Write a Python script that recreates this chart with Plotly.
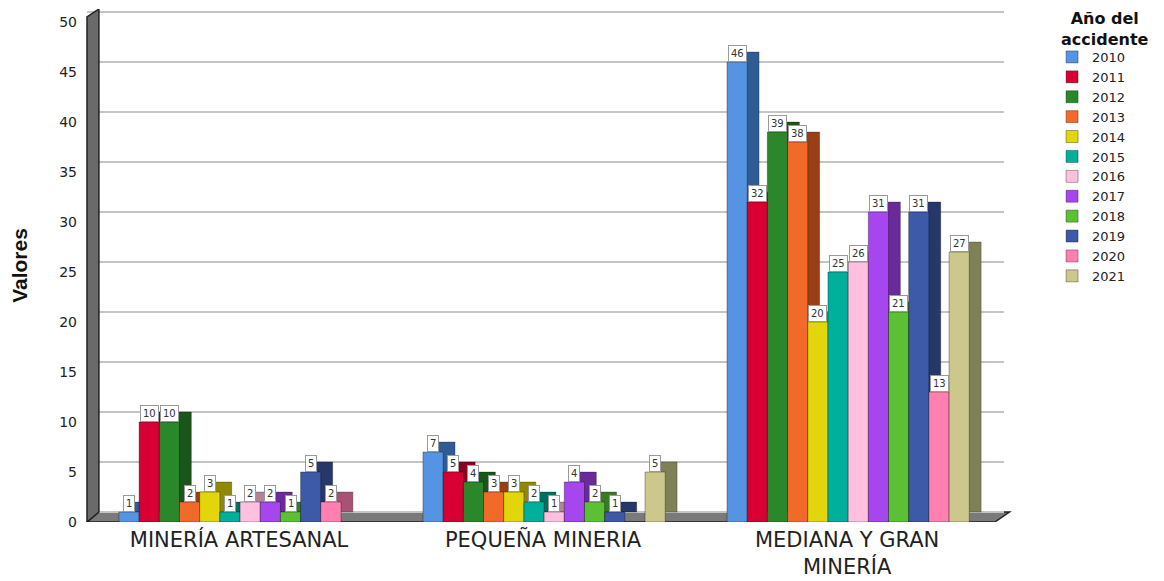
import plotly.graph_objects as go

categories = ["MINERÍA ARTESANAL", "PEQUEÑA MINERIA", "MEDIANA Y GRAN<br>MINERÍA"]
years = ["2010", "2011", "2012", "2013", "2014", "2015", "2016", "2017", "2018", "2019", "2020", "2021"]
artesanal = [1, 10, 10, 2, 3, 1, 2, 2, 1, 5, 2, None]
pequena = [7, 5, 4, 3, 3, 2, 1, 4, 2, 1, None, 5]
mediana = [46, 32, 39, 38, 20, 25, 26, 31, 21, 31, 13, 27]
colors = ["#5594E2", "#D80032", "#2A882A", "#F26A2A", "#E2D50A", "#00B09C",
          "#FFC0E0", "#A646EF", "#5CC035", "#3D5AA8", "#FF80B0", "#CCC88C"]
side_colors = ["#2F5C94", "#8A0020", "#1A561A", "#9A3E15", "#8F8706", "#006E62",
               "#B0849A", "#6A2A99", "#3A7A22", "#26376A", "#A85275", "#808058"]
yticks = [0, 5, 10, 15, 20, 25, 30, 35, 40, 45, 50]

x_pos = [0, 1, 2]
pitch = 0.0664
start = -0.395
dx = 0.039
dy = 1.0
ytop = 51.3

fig = go.Figure()
annotations = []
for i, yr in enumerate(years):
    vals = [artesanal[i], pequena[i], mediana[i]]
    off = start + i * pitch
    fig.add_trace(go.Bar(
        x=x_pos, y=vals, base=dy, offset=off + dx, width=pitch,
        marker=dict(color=side_colors[i], line=dict(width=0.5, color="rgba(0,0,0,0.5)")),
        showlegend=False, hoverinfo="skip"))
    fig.add_trace(go.Bar(
        x=x_pos, y=vals, offset=off, width=pitch, name=yr,
        marker=dict(color=colors[i], line=dict(width=0.6, color="rgba(0,0,0,0.55)"))))
    for xp, v in zip(x_pos, vals):
        if v is None:
            continue
        annotations.append(dict(
            x=xp + off + pitch / 2, y=v, xref="x", yref="y", text=str(v),
            showarrow=False, yanchor="bottom", xanchor="center",
            font=dict(size=10, color="#333333", family="DejaVu Sans"),
            bgcolor="white", bordercolor="#9a9a9a", borderwidth=1, borderpad=2))

# legend title as a free annotation (keeps the legend from pushing the margins)
annotations.append(dict(
    x=1.110, y=1.004, xref="paper", yref="paper", xanchor="center", yanchor="top",
    text="<b>Año del<br>accidente</b>", showarrow=False,
    font=dict(size=16, color="#111111", family="DejaVu Sans")))

# invisible trace on the shifted (back-plane) axis so it renders its grid
fig.add_trace(go.Scatter(x=[0], y=[0], yaxis="y2", mode="markers",
                         marker=dict(opacity=0), showlegend=False, hoverinfo="skip"))

wall_w = 0.013
shapes = [
    dict(type="path", xref="x domain", yref="y",
         path=f"M 0,0 L 0.99,0 L 1.006,{dy} L {wall_w},{dy} Z",
         fillcolor="#7a7a7a", line=dict(color="#222222", width=1.5), layer="below"),
    dict(type="path", xref="x domain", yref="y",
         path=f"M 0,0 L 0,50.5 L {wall_w},{ytop} L {wall_w},{dy} Z",
         fillcolor="#6a6a6a", line=dict(color="#222222", width=1.5)),
]

fig.update_layout(
    width=1156, height=573,
    barmode="overlay",
    paper_bgcolor="white", plot_bgcolor="white",
    margin=dict(l=79, r=160, t=1, b=59, autoexpand=False),
    font=dict(family="DejaVu Sans", color="#222222"),
    xaxis=dict(range=[-0.5, 2.516], tickvals=x_pos, ticktext=categories,
               tickfont=dict(size=21, color="#222222", family="DejaVu Sans"),
               showgrid=False, zeroline=False, showline=False, ticks="",
               ticklabelstandoff=3, automargin=False),
    yaxis=dict(range=[0, ytop], tickvals=yticks, showgrid=False,
               zeroline=False, showline=False, automargin=False,
               tickfont=dict(size=14, color="#222222", family="DejaVu Sans"), ticks="",
               ticklabelstandoff=9,
               title=dict(text="<b>Valores</b>",
                          font=dict(size=21, color="#111111", family="Liberation Sans, Arial"),
                          standoff=25)),
    yaxis2=dict(range=[-dy, ytop - dy], overlaying="y", tickvals=yticks,
                showticklabels=False, showgrid=True, gridcolor="#c4c4c4",
                gridwidth=1.5, zeroline=False, showline=False, ticks="",
                automargin=False, layer="below traces"),
    legend=dict(x=1.0524, y=0.9357, xanchor="left", yanchor="top",
                font=dict(size=13, color="#222222", family="DejaVu Sans"),
                tracegroupgap=0, itemwidth=30, bgcolor="rgba(0,0,0,0)"),
    annotations=annotations,
    shapes=shapes,
)

fig.write_html("out.html")
